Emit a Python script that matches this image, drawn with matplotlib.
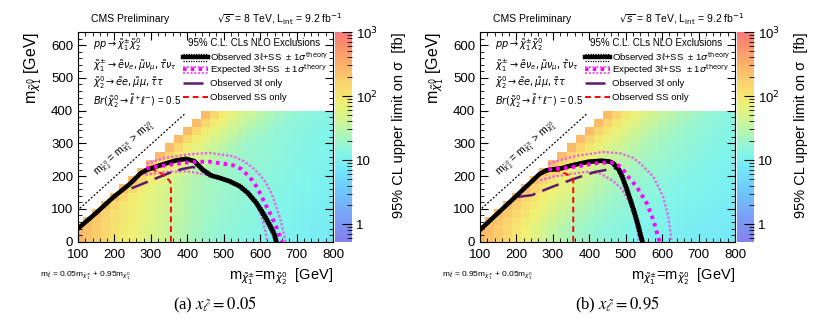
import numpy as np
import matplotlib.pyplot as plt
from matplotlib.colors import LinearSegmentedColormap, LogNorm
from matplotlib.lines import Line2D
from matplotlib.ticker import MultipleLocator, LogLocator, NullFormatter

plt.rcParams['font.family'] = ['Liberation Sans', 'DejaVu Sans']
plt.rcParams['mathtext.fontset'] = 'dejavusans'

W, H = 831, 324
nan = np.nan

# grid of mass points (chargino/neutralino2 mass, LSP mass)
mchi = np.arange(100, 801, 25)
mlsp = np.arange(12.5, 400, 25)

# log10 of the 95% CL upper limit [fb], rows from top (LSP 387.5) to bottom (12.5)
limit_rows_a = [
    [nan]*14 + [2.4, 2.15, 1.95, 1.8, 1.68, 1.57, 1.48, 1.4, 1.33, 1.27, 1.22, 1.18, 1.15, 1.12, 1.1],
    [nan]*13 + [2.4, 2.15, 1.95, 1.8, 1.68, 1.57, 1.48, 1.4, 1.33, 1.27, 1.22, 1.18, 1.16, 1.13, 1.11, 1.08],
    [nan]*12 + [2.4, 2.15, 1.95, 1.8, 1.68, 1.57, 1.48, 1.4, 1.33, 1.27, 1.22, 1.19, 1.16, 1.14, 1.11, 1.09, 1.06],
    [nan]*11 + [2.4, 2.15, 1.95, 1.8, 1.68, 1.57, 1.48, 1.4, 1.33, 1.27, 1.23, 1.2, 1.18, 1.15, 1.13, 1.1, 1.08, 1.05],
    [nan]*10 + [2.4, 2.15, 1.95, 1.8, 1.68, 1.57, 1.48, 1.4, 1.33, 1.27, 1.24, 1.22, 1.19, 1.17, 1.14, 1.12, 1.09, 1.07, 1.04],
    [nan]*9 + [2.4, 2.15, 1.95, 1.8, 1.68, 1.57, 1.48, 1.4, 1.33, 1.28, 1.26, 1.23, 1.21, 1.18, 1.16, 1.13, 1.11, 1.08, 1.06, 1.03],
    [nan]*8 + [2.4, 2.15, 1.95, 1.8, 1.68, 1.57, 1.48, 1.4, 1.33, 1.29, 1.26, 1.24, 1.21, 1.19, 1.16, 1.14, 1.11, 1.09, 1.06, 1.04, 1.01],
    [nan]*7 + [2.4, 2.15, 1.95, 1.8, 1.68, 1.57, 1.48, 1.4, 1.34, 1.3, 1.28, 1.25, 1.23, 1.2, 1.18, 1.15, 1.13, 1.1, 1.08, 1.05, 1.03, 1.0],
    [nan]*6 + [2.4, 2.15, 1.95, 1.8, 1.68, 1.57, 1.49, 1.42, 1.37, 1.33, 1.29, 1.27, 1.24, 1.22, 1.19, 1.17, 1.14, 1.12, 1.09, 1.07, 1.04, 1.02, 0.99],
    [nan]*5 + [2.4, 2.15, 1.95, 1.8, 1.73, 1.63, 1.56, 1.48, 1.41, 1.36, 1.32, 1.28, 1.26, 1.23, 1.21, 1.18, 1.16, 1.13, 1.11, 1.08, 1.06, 1.03, 1.01, 0.98],
    [nan]*4 + [2.4, 2.15, 1.96, 1.86, 1.78, 1.71, 1.61, 1.54, 1.46, 1.39, 1.34, 1.3, 1.26, 1.24, 1.21, 1.19, 1.16, 1.14, 1.11, 1.09, 1.06, 1.04, 1.01, 0.99, 0.96],
    [nan]*3 + [2.4, 2.15, 2.0, 1.95, 1.85, 1.77, 1.7, 1.6, 1.53, 1.45, 1.38, 1.33, 1.29, 1.25, 1.23, 1.2, 1.18, 1.15, 1.13, 1.1, 1.08, 1.05, 1.03, 1.0, 0.98, 0.95],
    [nan]*2 + [2.4, 2.19, 2.09, 1.99, 1.94, 1.84, 1.76, 1.69, 1.59, 1.52, 1.44, 1.37, 1.32, 1.28, 1.24, 1.22, 1.19, 1.17, 1.14, 1.12, 1.09, 1.07, 1.04, 1.02, 0.99, 0.97, 0.94],
    [nan]*1 + [2.4, 2.28, 2.18, 2.08, 1.98, 1.93, 1.83, 1.75, 1.68, 1.58, 1.5, 1.43, 1.36, 1.31, 1.27, 1.23, 1.21, 1.18, 1.16, 1.13, 1.11, 1.08, 1.06, 1.03, 1.01, 0.98, 0.96, 0.93],
    [2.46, 2.36, 2.26, 2.16, 2.06, 1.96, 1.91, 1.81, 1.73, 1.66, 1.56, 1.49, 1.41, 1.34, 1.29, 1.25, 1.21, 1.19, 1.16, 1.14, 1.11, 1.09, 1.06, 1.04, 1.01, 0.99, 0.96, 0.94, 0.91],
    [2.45, 2.35, 2.25, 2.15, 2.05, 1.95, 1.9, 1.8, 1.72, 1.65, 1.55, 1.48, 1.4, 1.33, 1.28, 1.24, 1.2, 1.18, 1.15, 1.13, 1.1, 1.08, 1.05, 1.03, 1.0, 0.98, 0.95, 0.93, 0.9],
]

limit_rows_b = [
    [nan]*14 + [2.4, 2.2, 2.0, 1.85, 1.74, 1.64, 1.55, 1.47, 1.4, 1.34, 1.29, 1.24, 1.2, 1.16, 1.12],
    [nan]*13 + [2.4, 2.2, 2.0, 1.85, 1.74, 1.64, 1.55, 1.47, 1.4, 1.34, 1.29, 1.24, 1.2, 1.17, 1.14, 1.11],
    [nan]*12 + [2.4, 2.2, 2.0, 1.85, 1.74, 1.64, 1.55, 1.47, 1.4, 1.34, 1.29, 1.25, 1.21, 1.18, 1.15, 1.12, 1.09],
    [nan]*11 + [2.4, 2.2, 2.0, 1.85, 1.74, 1.64, 1.55, 1.47, 1.4, 1.34, 1.3, 1.26, 1.22, 1.19, 1.16, 1.13, 1.1, 1.07],
    [nan]*10 + [2.4, 2.2, 2.0, 1.85, 1.74, 1.64, 1.55, 1.47, 1.41, 1.36, 1.31, 1.27, 1.23, 1.2, 1.17, 1.14, 1.11, 1.08, 1.05],
    [nan]*9 + [2.4, 2.2, 2.0, 1.85, 1.74, 1.64, 1.55, 1.48, 1.42, 1.37, 1.32, 1.28, 1.24, 1.21, 1.18, 1.15, 1.12, 1.09, 1.06, 1.03],
    [nan]*8 + [2.4, 2.2, 2.0, 1.85, 1.74, 1.64, 1.56, 1.49, 1.43, 1.37, 1.32, 1.28, 1.24, 1.21, 1.18, 1.15, 1.12, 1.09, 1.06, 1.03, 1.01],
    [nan]*7 + [2.4, 2.2, 2.0, 1.85, 1.74, 1.65, 1.57, 1.5, 1.43, 1.37, 1.32, 1.28, 1.24, 1.21, 1.18, 1.15, 1.12, 1.09, 1.06, 1.04, 1.02, 1.0],
    [nan]*6 + [2.4, 2.2, 2.0, 1.86, 1.76, 1.66, 1.58, 1.5, 1.43, 1.37, 1.32, 1.28, 1.24, 1.21, 1.18, 1.15, 1.12, 1.09, 1.07, 1.05, 1.03, 1.01, 0.99],
    [nan]*5 + [2.4, 2.2, 2.02, 1.9, 1.8, 1.7, 1.6, 1.52, 1.44, 1.38, 1.33, 1.28, 1.24, 1.21, 1.18, 1.15, 1.12, 1.09, 1.07, 1.05, 1.03, 1.01, 0.99, 0.97],
    [nan]*4 + [2.4, 2.2, 2.05, 1.93, 1.83, 1.73, 1.63, 1.54, 1.46, 1.39, 1.33, 1.28, 1.24, 1.21, 1.18, 1.15, 1.12, 1.09, 1.07, 1.05, 1.03, 1.01, 0.99, 0.97, 0.95],
    [nan]*3 + [2.4, 2.22, 2.1, 1.98, 1.87, 1.76, 1.66, 1.56, 1.47, 1.4, 1.34, 1.29, 1.25, 1.21, 1.18, 1.15, 1.12, 1.09, 1.07, 1.05, 1.03, 1.01, 0.99, 0.97, 0.95, 0.93],
    [nan]*2 + [2.42, 2.28, 2.15, 2.03, 1.91, 1.8, 1.69, 1.59, 1.49, 1.41, 1.35, 1.3, 1.25, 1.21, 1.18, 1.15, 1.12, 1.09, 1.07, 1.05, 1.03, 1.01, 0.99, 0.97, 0.95, 0.93, 0.92],
    [nan]*1 + [2.42, 2.32, 2.2, 2.08, 1.96, 1.84, 1.72, 1.61, 1.51, 1.42, 1.35, 1.3, 1.25, 1.21, 1.18, 1.15, 1.12, 1.09, 1.07, 1.05, 1.03, 1.01, 0.99, 0.97, 0.95, 0.93, 0.92, 0.91],
    [2.46, 2.38, 2.27, 2.15, 2.02, 1.9, 1.78, 1.66, 1.55, 1.45, 1.37, 1.31, 1.26, 1.22, 1.18, 1.15, 1.12, 1.09, 1.07, 1.05, 1.03, 1.01, 0.99, 0.97, 0.95, 0.93, 0.92, 0.91, 0.9],
    [2.45, 2.37, 2.26, 2.14, 2.01, 1.89, 1.77, 1.65, 1.54, 1.44, 1.36, 1.3, 1.25, 1.21, 1.17, 1.14, 1.11, 1.08, 1.06, 1.04, 1.02, 1.0, 0.98, 0.96, 0.94, 0.92, 0.91, 0.9, 0.89],
]

# panel (a): x = 0.05
obs_a_x = [100, 150, 195, 241, 273, 291, 333, 369, 397, 419, 442, 465, 488, 515, 543, 566, 589, 607, 625, 639, 644]
obs_a_y = [40, 88, 134, 175, 210, 220, 236, 248, 253, 246, 220, 202, 195, 185, 170, 149, 119, 88, 53, 22, 0]
obs_up_a_x = [100, 150, 195, 241, 273, 291, 333, 369, 397, 422, 446, 470, 492, 519, 547, 570, 593, 612, 630, 644, 650]
obs_up_a_y = [45, 93, 139, 180, 215, 226, 241, 253, 258, 250, 224, 206, 199, 189, 174, 153, 123, 92, 57, 25, 0]
obs_dn_a_x = [100, 150, 195, 241, 273, 291, 333, 369, 396, 416, 438, 460, 484, 511, 539, 562, 585, 602, 620, 634, 639]
obs_dn_a_y = [35, 83, 129, 170, 205, 215, 231, 243, 248, 242, 216, 198, 191, 181, 166, 145, 115, 84, 49, 19, 0]
exp_a_x = [288, 344, 400, 435, 462, 500, 526, 548, 563, 578, 590, 602, 613, 625, 636, 646, 654, 660]
exp_a_y = [224, 234, 242, 244, 244, 238, 233, 222, 206, 188, 168, 143, 117, 92, 66, 40, 15, 0]
exp_up_a_x = [288, 340, 398, 460, 525, 555, 580, 600, 616, 632, 644, 655, 662, 667, 670]
exp_up_a_y = [239, 256, 266, 271, 261, 246, 225, 203, 180, 145, 108, 70, 38, 15, 0]
exp_dn_a_x = [285, 343, 398, 435, 453, 480, 520, 550, 575, 595, 608, 615, 620]
exp_dn_a_y = [205, 213, 215, 208, 204, 197, 184, 168, 140, 105, 60, 30, 0]
obs3l_a_x = [247, 296, 351, 387, 415, 442]
obs3l_a_y = [163, 185, 210, 222, 228, 221]
ss_a_x = [355, 355, 350, 338, 325, 305]
ss_a_y = [0, 178, 188, 198, 212, 220]

# panel (b): x = 0.95
obs_b_x = [100, 150, 200, 265, 283, 324, 352, 397, 434, 455, 465, 480, 490, 503, 515, 525, 535, 542, 546]
obs_b_y = [36, 88, 140, 208, 218, 224, 233, 244, 247, 245, 240, 222, 200, 160, 120, 85, 46, 15, 0]
obs_up_b_x = [100, 150, 200, 265, 283, 324, 352, 397, 434, 458, 470, 485, 495, 508, 520, 530, 540, 547, 551]
obs_up_b_y = [41, 93, 145, 213, 223, 229, 238, 249, 252, 249, 243, 224, 202, 162, 122, 87, 48, 16, 0]
obs_dn_b_x = [100, 150, 200, 265, 283, 324, 352, 397, 434, 452, 460, 475, 485, 498, 510, 520, 530, 537, 541]
obs_dn_b_y = [31, 83, 135, 203, 213, 219, 228, 239, 242, 240, 236, 219, 197, 157, 117, 82, 43, 13, 0]
exp_b_x = [288, 330, 361, 416, 450, 471, 490, 503, 530, 558, 576, 590, 594]
exp_b_y = [220, 224, 229, 239, 242, 240, 225, 203, 168, 117, 66, 10, 0]
exp_up_b_x = [288, 330, 365, 438, 484, 520, 539, 576, 603, 617, 622, 626]
exp_up_b_y = [238, 252, 262, 274, 270, 256, 240, 198, 137, 76, 35, 0]
exp_dn_b_x = [265, 300, 350, 393, 430, 466, 490, 510, 524, 532, 536]
exp_dn_b_y = [188, 198, 207, 213, 208, 185, 160, 120, 75, 35, 0]
obs3l_b_x = [205, 242, 297, 361, 416, 471, 493]
obs3l_b_y = [137, 142, 167, 193, 213, 224, 213]
ss_b_x = [356, 356, 350, 340, 324, 301, 288]
ss_b_y = [0, 185, 196, 205, 213, 218, 223]

diag_x = [105, 394]
diag_y = [102, 391]

# ROOT-like pastel palette
cmap_values = [0.53, 1, 3, 7, 12, 20, 40, 80, 150, 300, 600, 1000]
cmap_colors = ['#8480ec', '#7d96f5', '#6ec3fa', '#73e6fa', '#82f5eb', '#a0f5c8',
               '#cdf596', '#f0f073', '#fad76e', '#fab469', '#fa916e', '#fa787d']
vmin, vmax = 0.53, 1000
pos = [(np.log10(v) - np.log10(vmin)) / (np.log10(vmax) - np.log10(vmin)) for v in cmap_values]
cmap = LinearSegmentedColormap.from_list('root', list(zip(pos, cmap_colors)))
norm = LogNorm(vmin=vmin, vmax=vmax)

fig = plt.figure(figsize=(W / 100, H / 100), dpi=100)


def ftext(px, py, s, **kw):
    fig.text(px / W, 1 - py / H, s, **kw)


def fline(px0, px1, py, **kw):
    fig.add_artist(Line2D([px0 / W, px1 / W], [1 - py / H, 1 - py / H], transform=fig.transFigure, **kw))


def draw_panel(dx, grid, obs, obs_up, obs_dn, exp, exp_up, exp_dn, obs3l, ss, coeff, caption):
    ax = fig.add_axes([(78 + dx) / W, 1 - 241.7 / H, 255 / W, 209.7 / H])
    cax = fig.add_axes([(334.5 + dx) / W, 1 - 241.7 / H, 17 / W, 209.7 / H])

    z = np.ma.masked_invalid(10 ** np.array(grid[::-1]))
    mesh = ax.pcolormesh(mchi, mlsp, z, cmap=cmap, norm=norm, shading='nearest')

    ax.plot(diag_x, diag_y, color='black', lw=0.9, ls=(0, (1.5, 1.5)))
    ax.plot(*exp_up, color='#e468e4', lw=1.7, ls=(0, (1, 0.8)))
    ax.plot(*exp_dn, color='#e468e4', lw=1.7, ls=(0, (1, 0.8)))
    ax.plot(*obs3l, color='#5a1a70', lw=1.8, ls=(0, (7, 3)))
    ax.plot(*ss, color='red', lw=1.4, ls=(0, (3, 2)))
    ax.plot(*obs, color='black', lw=3.2)
    ax.plot(*obs_up, color='black', lw=0.9, ls=(0, (1, 1)))
    ax.plot(*obs_dn, color='black', lw=0.9, ls=(0, (1, 1)))
    ax.plot(*exp, color='#ff00ff', lw=2.8, ls=(0, (0.9, 1.1)))

    ax.set_xlim(100, 800)
    ax.set_ylim(0, 640)
    ax.set_xticks(range(100, 801, 100))
    ax.set_yticks(range(0, 601, 100))
    ax.xaxis.set_minor_locator(MultipleLocator(20))
    ax.yaxis.set_minor_locator(MultipleLocator(20))
    ax.tick_params(which='both', direction='in', top=True, right=True, labelsize=9.5)
    ax.tick_params(which='major', length=6)
    ax.tick_params(which='minor', length=3)
    ax.tick_params(axis='x', pad=5.5)

    ax.text(228, 283, r'm$_{\tilde{\chi}^{0}_{2}}$ = m$_{\tilde{\chi}^{\pm}_{1}}$ > m$_{\tilde{\chi}^{0}_{1}}$',
            rotation=42, ha='center', va='center', fontsize=7.5, rotation_mode='anchor')

    cb = fig.colorbar(mesh, cax=cax)
    cb.outline.set_visible(False)
    cax.set_yticks([1, 10, 100, 1000])
    cax.set_yticklabels(['1', '10', r'10$^{2}$', r'10$^{3}$'])
    cax.yaxis.set_minor_locator(LogLocator(subs=np.arange(2, 10)))
    cax.yaxis.set_minor_formatter(NullFormatter())
    cax.tick_params(which='both', direction='in', labelsize=9.5)
    cax.tick_params(which='major', length=7)
    cax.tick_params(which='minor', length=3.5)

    # labels around the frame
    ftext(33 + dx, 32, r'm$_{\tilde{\chi}^{0}_{1}}$ [GeV]', rotation=90, ha='center', va='top', fontsize=11.5)
    ftext(333 + dx, 279, r'm$_{\tilde{\chi}^{\pm}_{1}}$=m$_{\tilde{\chi}^{0}_{2}}$  [GeV]', ha='right', va='baseline', fontsize=10.5)
    ftext(399 + dx, 32, u'95% CL upper limit on \u03c3  [fb]', rotation=90, ha='center', va='top', fontsize=10.5)
    ftext(91 + dx, 19, 'CMS Preliminary', ha='left', va='center', fontsize=7.5)
    ftext(217 + dx, 19, r'$\sqrt{s}$ = 8 TeV, L$_{\mathrm{int}}$ = 9.2 fb$^{-1}$', ha='left', va='center', fontsize=7.5)
    ftext(40 + dx, 276, coeff, ha='left', va='center', fontsize=6)
    ftext(215 + dx, 305, caption, ha='center', va='center', fontsize=12,
          family='Liberation Serif', math_fontfamily='stix')

    # process description
    ftext(93 + dx, 45, r'$pp \rightarrow \tilde{\chi}^{\pm}_{1}\tilde{\chi}^{0}_{2}$', va='center', fontsize=7)
    ftext(93 + dx, 65, r'$\tilde{\chi}^{\pm}_{1} \rightarrow \tilde{e}\nu_{e}, \tilde{\mu}\nu_{\mu}, \tilde{\tau}\nu_{\tau}$', va='center', fontsize=7)
    ftext(93 + dx, 83, r'$\tilde{\chi}^{0}_{2} \rightarrow \tilde{e}e, \tilde{\mu}\mu, \tilde{\tau}\tau$', va='center', fontsize=7)
    ftext(93 + dx, 101, r'$Br(\tilde{\chi}^{0}_{2} \rightarrow \tilde{\ell}^{+}\ell^{-})$ = 0.5', va='center', fontsize=7)

    # legend drawn by hand like the ROOT legend
    ftext(188 + dx, 43, '95% C.L. CLs NLO Exclusions', va='center', fontsize=7)
    fline(183 + dx, 208 + dx, 57, color='black', lw=3.2)
    fline(183 + dx, 208 + dx, 53.5, color='black', lw=0.9, ls=(0, (1, 1)))
    fline(183 + dx, 208 + dx, 60.5, color='black', lw=0.9, ls=(0, (1, 1)))
    fline(183 + dx, 208 + dx, 69.5, color='#ff00ff', lw=2.8, ls=(0, (0.9, 1.1)))
    fline(183 + dx, 208 + dx, 66.5, color='#e468e4', lw=1.5, ls=(0, (1, 0.8)))
    fline(183 + dx, 208 + dx, 72.5, color='#e468e4', lw=1.5, ls=(0, (1, 0.8)))
    fline(183 + dx, 208 + dx, 82.5, color='#5a1a70', lw=1.8, ls=(0, (8, 2, 2, 2)))
    fline(183 + dx, 208 + dx, 97, color='red', lw=1.4, ls=(0, (3, 2)))
    ftext(210 + dx, 57, u'Observed 3\u2113+SS  \u00b1 1$\\sigma^{\\mathrm{theory}}$', va='center', fontsize=6.8)
    ftext(210 + dx, 70, u'Expected 3\u2113+SS  \u00b1 1$\\sigma^{\\mathrm{theory}}$', va='center', fontsize=6.8)
    ftext(210 + dx, 83, u'Observed 3\u2113 only', va='center', fontsize=6.8)
    ftext(210 + dx, 97, 'Observed SS only', va='center', fontsize=6.8)


draw_panel(0, limit_rows_a,
           (obs_a_x, obs_a_y), (obs_up_a_x, obs_up_a_y), (obs_dn_a_x, obs_dn_a_y),
           (exp_a_x, exp_a_y), (exp_up_a_x, exp_up_a_y), (exp_dn_a_x, exp_dn_a_y),
           (obs3l_a_x, obs3l_a_y), (ss_a_x, ss_a_y),
           r'm$_{\tilde{\ell}}$ = 0.05m$_{\tilde{\chi}^{\pm}_{1}}$ + 0.95m$_{\tilde{\chi}^{0}_{1}}$',
           r'(a) $x_{\tilde{\ell}} = 0.05$')
draw_panel(402, limit_rows_b,
           (obs_b_x, obs_b_y), (obs_up_b_x, obs_up_b_y), (obs_dn_b_x, obs_dn_b_y),
           (exp_b_x, exp_b_y), (exp_up_b_x, exp_up_b_y), (exp_dn_b_x, exp_dn_b_y),
           (obs3l_b_x, obs3l_b_y), (ss_b_x, ss_b_y),
           r'm$_{\tilde{\ell}}$ = 0.95m$_{\tilde{\chi}^{\pm}_{1}}$ + 0.05m$_{\tilde{\chi}^{0}_{1}}$',
           r'(b) $x_{\tilde{\ell}} = 0.95$')

fig.savefig('out.png', dpi=100)
